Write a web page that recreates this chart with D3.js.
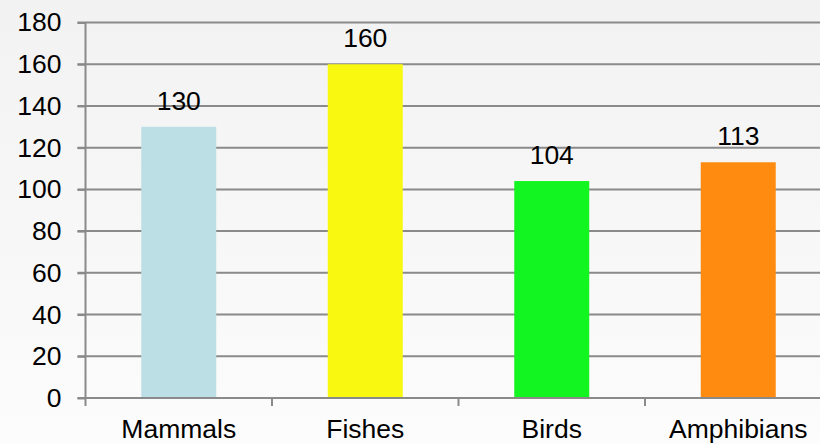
<!DOCTYPE html>
<html>
<head>
<meta charset="utf-8">
<script src="https://cdn.jsdelivr.net/npm/d3@7"></script>
<style>
  html, body { margin: 0; padding: 0; overflow: hidden; }
  svg { display: block; }
  text { font-family: "Liberation Sans", Arial, sans-serif; fill: #000; }
</style>
</head>
<body>
<script>
const categories = ["Mammals", "Fishes", "Birds", "Amphibians"];
const values = [130, 160, 104, 113];
const barColors = ["#bcdfe5", "#f8f810", "#12f521", "#ff8c10"];
const yTicks = [0, 20, 40, 60, 80, 100, 120, 140, 160, 180];

const W = 820, H = 444;
const mLeft = 85.5, mRight = 831.5, mTop = 22.5, mBottom = 398;
const fontSize = 26.5;

const svg = d3.select("body").append("svg").attr("width", W).attr("height", H);

const defs = svg.append("defs");
const grad = defs.append("linearGradient").attr("id", "bg").attr("x1", 0).attr("y1", 0).attr("x2", 0).attr("y2", 1);
grad.append("stop").attr("offset", "0%").attr("stop-color", "#f2f2f2");
grad.append("stop").attr("offset", "100%").attr("stop-color", "#fcfcfc");
svg.append("rect").attr("width", W).attr("height", H).attr("fill", "url(#bg)");

const x = d3.scaleBand().domain(categories).range([mLeft, mRight]).paddingInner(0.598).paddingOuter(0.299);
const xStep = d3.scaleBand().domain(categories).range([mLeft, mRight]).padding(0);
const y = d3.scaleLinear().domain([0, 180]).range([mBottom, mTop]);

// gridlines
svg.append("g").selectAll("line").data(yTicks.filter(d => d > 0)).join("line")
  .attr("x1", mLeft - 8).attr("x2", W + 20)
  .attr("y1", d => y(d)).attr("y2", d => y(d))
  .attr("stroke", "#8a8a8a").attr("stroke-width", 2);

// bars
svg.append("g").selectAll("rect").data(values).join("rect")
  .attr("x", (d, i) => x(categories[i]))
  .attr("width", x.bandwidth())
  .attr("y", d => y(d))
  .attr("height", d => y(0) - y(d))
  .attr("fill", (d, i) => barColors[i]);

// y axis
const yAxis = d3.axisLeft(y).tickValues(yTicks).tickSize(8).tickPadding(16);
const gy = svg.append("g").attr("transform", `translate(${mLeft},0)`).call(yAxis);
gy.select(".domain").attr("stroke", "#8a8a8a").attr("stroke-width", 2).attr("d", `M0,${mTop}V${mBottom}`);
gy.selectAll(".tick line").attr("stroke", "#8a8a8a").attr("stroke-width", 2);
gy.selectAll(".tick text").style("font-family", "'Liberation Sans', Arial, sans-serif").style("font-size", fontSize + "px").attr("fill", "#000");

// x axis
const gx = svg.append("g").attr("transform", `translate(0,${mBottom})`);
gx.append("line").attr("x1", mLeft - 8).attr("x2", W + 20).attr("y1", 0).attr("y2", 0)
  .attr("stroke", "#8a8a8a").attr("stroke-width", 2);
const bounds = categories.map(c => xStep(c)).concat([xStep(categories[categories.length - 1]) + xStep.bandwidth()]);
gx.selectAll("line.t").data(bounds).join("line").attr("class", "t")
  .attr("x1", d => d).attr("x2", d => d).attr("y1", 0).attr("y2", 8)
  .attr("stroke", "#8a8a8a").attr("stroke-width", 2);
gx.selectAll("text").data(categories).join("text")
  .attr("x", d => x(d) + x.bandwidth() / 2).attr("y", 39.5)
  .attr("text-anchor", "middle").style("font-size", fontSize + "px")
  .text(d => d);

// value labels
svg.append("g").selectAll("text").data(values).join("text")
  .attr("x", (d, i) => x(categories[i]) + x.bandwidth() / 2)
  .attr("y", d => y(d) - 17)
  .attr("text-anchor", "middle").style("font-size", fontSize + "px")
  .text(d => d);
</script>
</body>
</html>
